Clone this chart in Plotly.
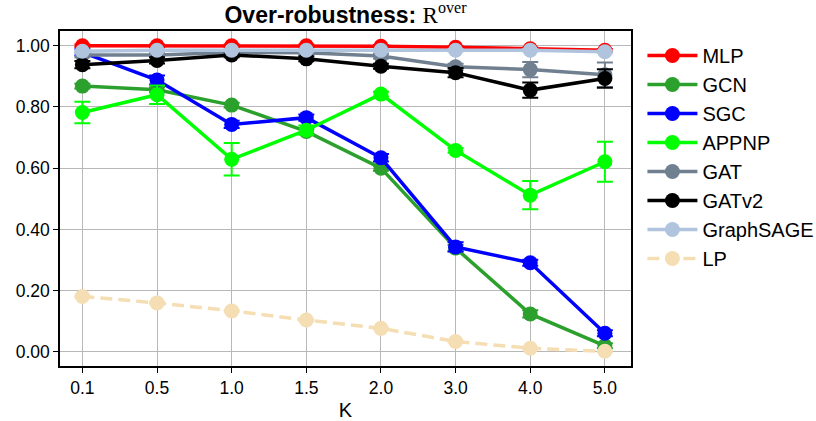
import plotly.graph_objects as go

# Perturbation budget K (categorical x positions)
k_labels = ["0.1", "0.5", "1.0", "1.5", "2.0", "3.0", "4.0", "5.0"]

models = ["MLP", "GCN", "SGC", "APPNP", "GAT", "GATv2", "GraphSAGE", "LP"]

mlp_mean = [1.000, 1.000, 1.000, 1.000, 0.998, 0.995, 0.990, 0.985]
mlp_err = [0.004, 0.004, 0.004, 0.004, 0.004, 0.004, 0.004, 0.004]

gcn_mean = [0.868, 0.856, 0.806, 0.720, 0.600, 0.339, 0.124, 0.020]
gcn_err = [0.008, 0.008, 0.008, 0.008, 0.008, 0.010, 0.012, 0.008]

sgc_mean = [0.978, 0.888, 0.743, 0.765, 0.634, 0.343, 0.291, 0.061]
sgc_err = [0.010, 0.015, 0.012, 0.010, 0.012, 0.015, 0.010, 0.010]

appnp_mean = [0.782, 0.840, 0.629, 0.724, 0.842, 0.658, 0.512, 0.621]
appnp_err = [0.035, 0.030, 0.053, 0.015, 0.008, 0.008, 0.046, 0.065]

gat_mean = [0.970, 0.970, 0.978, 0.977, 0.966, 0.931, 0.922, 0.905]
gat_err = [0.008, 0.008, 0.008, 0.008, 0.008, 0.010, 0.025, 0.040]

gatv2_mean = [0.938, 0.952, 0.970, 0.957, 0.933, 0.912, 0.855, 0.893]
gatv2_err = [0.012, 0.010, 0.008, 0.008, 0.008, 0.015, 0.025, 0.030]

sage_mean = [0.982, 0.985, 0.985, 0.985, 0.985, 0.985, 0.985, 0.980]
sage_err = [0.004, 0.004, 0.004, 0.004, 0.004, 0.004, 0.004, 0.004]

lp_mean = [0.181, 0.160, 0.134, 0.104, 0.077, 0.034, 0.012, 0.002]
lp_err = [0.003, 0.003, 0.003, 0.003, 0.003, 0.003, 0.003, 0.003]

colors = ["#ff0000", "#2ca02c", "#0000ff", "#00ff00",
          "#708090", "#000000", "#b0c4de", "#f5deb3"]

means = [mlp_mean, gcn_mean, sgc_mean, appnp_mean,
         gat_mean, gatv2_mean, sage_mean, lp_mean]
errs = [mlp_err, gcn_err, sgc_err, appnp_err,
        gat_err, gatv2_err, sage_err, lp_err]

FONT = "Liberation Sans, Arial, Helvetica, sans-serif"

fig = go.Figure()
for name, col, m, e in zip(models, colors, means, errs):
    fig.add_trace(go.Scatter(
        x=k_labels, y=m, name=name, mode="lines+markers",
        line=dict(color=col, width=3.5,
                  dash="12px,6px" if name == "LP" else "solid"),
        marker=dict(color=col, size=15, symbol="circle"),
        error_y=dict(type="data", array=e, visible=True,
                     color=col, thickness=2, width=8),
    ))

fig.update_layout(
    width=816, height=421,
    margin=dict(l=60, r=185, t=31, b=55, autoexpand=False),
    paper_bgcolor="white", plot_bgcolor="white",
    font=dict(family=FONT, color="black", size=17.5),
    title=dict(
        text="<b>Over-robustness:</b> "
             "<span style='font-family:Liberation Serif, DejaVu Serif, serif'>"
             "R<sup>over</sup></span>",
        x=0.5, xref="paper", xanchor="center",
        y=1 - 15 / 421, yanchor="middle",
        font=dict(size=23, family=FONT, color="black"),
    ),
    legend=dict(
        x=1.02, xanchor="left", y=0.985, yanchor="top",
        font=dict(size=20, family=FONT, color="black"),
        bgcolor="rgba(0,0,0,0)", borderwidth=0,
        itemwidth=50,
    ),
    showlegend=True,
)

fig.update_xaxes(
    type="category", range=[-0.3, 7.35], automargin=False,
    showline=True, linecolor="black", linewidth=1.5, mirror=True,
    showgrid=True, gridcolor="#b8b8b8", gridwidth=1.3,
    ticks="outside", ticklen=5, tickwidth=1.2, tickcolor="black",
    tickfont=dict(size=17.5, family=FONT),
    title=dict(text="K", font=dict(size=20, family=FONT), standoff=12),
    zeroline=False,
)
fig.update_yaxes(
    range=[-0.046, 1.048], automargin=False,
    tickvals=[0.0, 0.2, 0.4, 0.6, 0.8, 1.0],
    tickformat=".2f",
    showline=True, linecolor="black", linewidth=1.5, mirror=True,
    showgrid=True, gridcolor="#b8b8b8", gridwidth=1.3,
    ticks="outside", ticklen=5, tickwidth=1.2, tickcolor="black",
    tickfont=dict(size=17.5, family=FONT),
    zeroline=False,
)

fig.write_html("out.html")
